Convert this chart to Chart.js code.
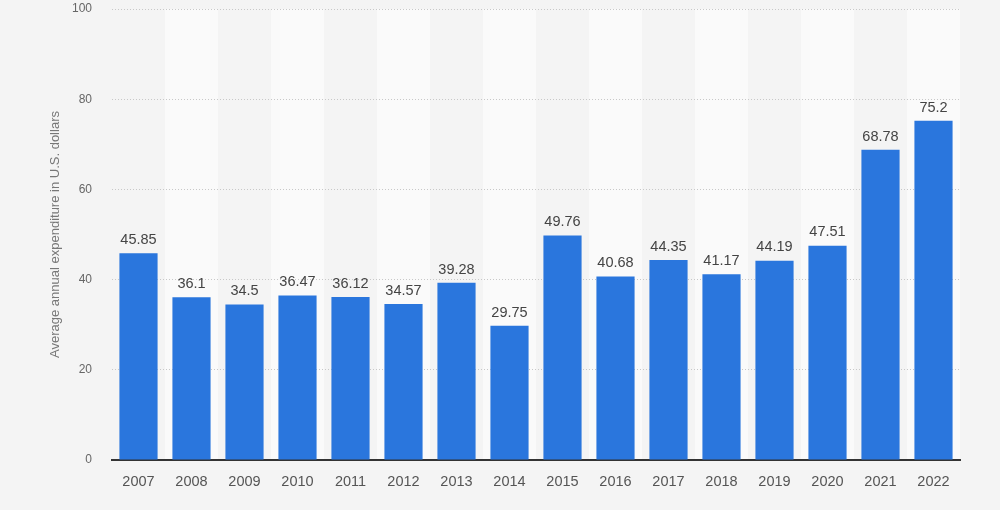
<!DOCTYPE html>
<html>
<head>
<meta charset="utf-8">
<script src="https://cdn.jsdelivr.net/npm/chart.js@4/dist/chart.umd.min.js"></script>
<style>
  html, body { margin: 0; padding: 0; background: #f4f4f4; }
  #wrap { width: 1000px; height: 510px; }
</style>
</head>
<body>
<div id="wrap"><canvas id="myChart" width="1000" height="510"></canvas></div>
<script>
// chart data
var years = ['2007', '2008', '2009', '2010', '2011', '2012', '2013', '2014',
    '2015', '2016', '2017', '2018', '2019', '2020', '2021', '2022'];
var spending = [45.85, 36.1, 34.5, 36.47, 36.12, 34.57, 39.28, 29.75,
    49.76, 40.68, 44.35, 41.17, 44.19, 47.51, 68.78, 75.2];
var yTicks = [0, 20, 40, 60, 80, 100];

var fontFam = '"Liberation Sans", Arial, sans-serif';

// light stripes behind every second year (drawn before grid and bars)
var stripes = {
    id: 'stripes',
    beforeDraw: function(chart) {
        var c = chart.ctx;
        var area = chart.chartArea;
        var x = chart.scales.x;
        var w = (area.right - area.left) / years.length;
        c.save();
        c.fillStyle = '#fafafa';
        for (var i = 1; i < years.length; i += 2) {
            var cx = x.getPixelForValue(i);
            c.fillRect(cx - w / 2, area.top, w, area.bottom - area.top);
        }
        c.restore();
    }
};

// value labels on top of the bars
var barLabels = {
    id: 'barLabels',
    afterDatasetsDraw: function(chart) {
        var c = chart.ctx;
        var meta = chart.getDatasetMeta(0);
        c.save();
        c.font = '14.5px ' + fontFam;
        c.fillStyle = '#444';
        c.textAlign = 'center';
        c.textBaseline = 'bottom';
        meta.data.forEach(function(bar, i) {
            c.fillText(String(spending[i]), bar.x, bar.y - 6);
        });
        c.restore();
    }
};

var ctx = document.getElementById('myChart').getContext('2d');
var myChart = new Chart(ctx, {
    type: 'bar',
    data: {
        labels: years,
        datasets: [{
            data: spending,
            backgroundColor: '#2a76dd',
            categoryPercentage: 1,
            barPercentage: 0.72
        }]
    },
    plugins: [stripes, barLabels],
    options: {
        responsive: false,
        animation: false,
        layout: { padding: { top: 9, right: 40, left: 0, bottom: 0 } },
        plugins: {
            legend: { display: false },
            tooltip: { enabled: false }
        },
        scales: {
            x: {
                grid: { display: false, drawTicks: false },
                border: { display: true, color: '#333', width: 2 },
                ticks: {
                    padding: 13,
                    color: '#555',
                    font: { size: 14.5, family: fontFam }
                },
                afterFit: function(scale) {
                    scale.height = 50;
                    scale.paddingLeft = 0;
                    scale.paddingRight = 0;
                }
            },
            y: {
                min: 0,
                max: 100,
                afterBuildTicks: function(scale) {
                    scale.ticks = yTicks.map(function(v) { return { value: v }; });
                },
                grid: { color: '#c8c8c8', drawTicks: false },
                border: { display: false, dash: [1, 2] },
                ticks: {
                    padding: 20,
                    color: '#666',
                    font: { size: 12, family: fontFam }
                },
                title: {
                    display: true,
                    text: 'Average annual expenditure in U.S. dollars',
                    color: '#777',
                    padding: { top: 48, bottom: 0 },
                    font: { size: 13, family: fontFam }
                },
                afterFit: function(scale) {
                    scale.width = 112;
                    scale.paddingTop = 0;
                    scale.paddingBottom = 0;
                }
            }
        }
    }
});
</script>
</body>
</html>
